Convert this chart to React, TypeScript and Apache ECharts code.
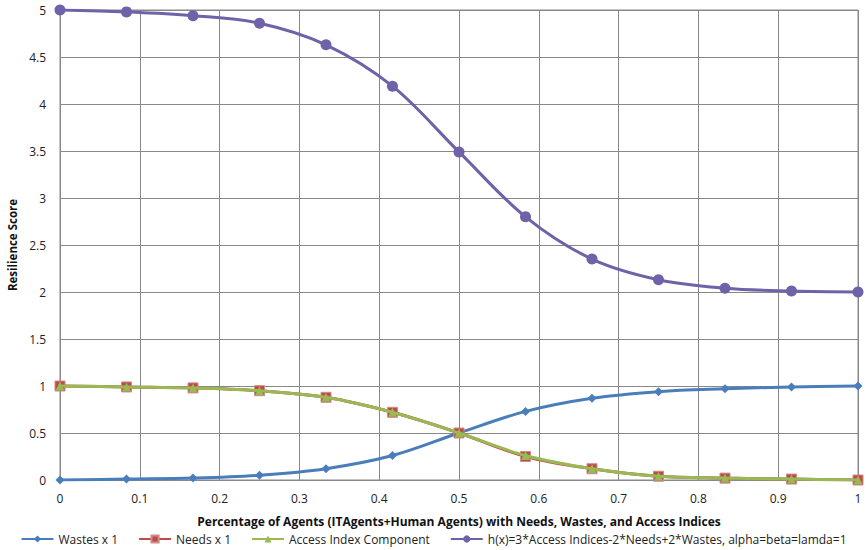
import React, { useEffect, useRef } from "react";
import * as echarts from "echarts";

const xValues = [0, 1 / 12, 2 / 12, 3 / 12, 4 / 12, 5 / 12, 6 / 12, 7 / 12, 8 / 12, 9 / 12, 10 / 12, 11 / 12, 1];
const wastes = [0, 0.01, 0.02, 0.05, 0.12, 0.26, 0.5, 0.73, 0.87, 0.94, 0.97, 0.99, 1.0];
const needs = [1, 0.99, 0.98, 0.95, 0.88, 0.72, 0.5, 0.25, 0.12, 0.04, 0.02, 0.01, 0];
const access = [1, 0.99, 0.98, 0.95, 0.88, 0.72, 0.5, 0.26, 0.12, 0.04, 0.02, 0.01, 0];
const hx = [5, 4.98, 4.94, 4.86, 4.63, 4.19, 3.49, 2.8, 2.35, 2.13, 2.04, 2.01, 2.0];

const seriesNames = [
  "Wastes x 1",
  "Needs x 1",
  "Access Index Component",
  "h(x)=3*Access Indices-2*Needs+2*Wastes, alpha=beta=lamda=1",
];
const colors = ["#4a7ebb", "#be4b48", "#98b954", "#6f62a8"];
const symbols = ["diamond", "rect", "triangle", "circle"];
const symbolSizes = [9, 10, 9, 11];
const values = [wastes, needs, access, hx];

const FONT = "Open Sans";

export default function App() {
  const ref = useRef<HTMLDivElement>(null);
  useEffect(() => {
    if (!ref.current) return;
    const chart = echarts.init(ref.current, undefined, { renderer: "svg" });
    chart.setOption({
      animation: false,
      backgroundColor: "#ffffff",
      textStyle: { fontFamily: FONT },
      grid: {
        left: 60,
        right: 9,
        top: 10,
        bottom: 70,
        outerBoundsMode: "none",
        containLabel: false,
        show: true,
        borderColor: "#888",
        borderWidth: 1,
      },
      legend: {
        bottom: 0,
        left: "center",
        itemWidth: 32,
        itemHeight: 9,
        itemGap: 20,
        textStyle: { fontFamily: FONT, fontSize: 12, color: "#222" },
        data: seriesNames,
      },
      xAxis: {
        type: "value",
        min: 0,
        max: 1,
        interval: 0.1,
        name: "Percentage of Agents (ITAgents+Human Agents) with Needs, Wastes, and Access Indices",
        nameLocation: "middle",
        nameGap: 35,
        nameTextStyle: { fontFamily: FONT, fontSize: 12, fontWeight: "bold", color: "#111" },
        axisLine: { show: true, lineStyle: { color: "#888" } },
        axisTick: { show: false },
        axisLabel: { fontFamily: FONT, fontSize: 12, color: "#222", margin: 12 },
        splitLine: { show: true, lineStyle: { color: "#888", width: 1 } },
      },
      yAxis: {
        type: "value",
        min: 0,
        max: 5,
        interval: 0.5,
        name: "Resilience Score",
        nameLocation: "middle",
        nameGap: 31,
        nameTextStyle: { fontFamily: FONT, fontSize: 11.5, fontWeight: "bold", color: "#111" },
        axisLine: { show: true, lineStyle: { color: "#888" } },
        axisTick: { show: false },
        axisLabel: { fontFamily: FONT, fontSize: 12, color: "#222", margin: 14 },
        splitLine: { show: true, lineStyle: { color: "#888", width: 1 } },
      },
      series: seriesNames.map((name, i) => ({
        name,
        type: "line",
        smooth: 0.35,
        data: xValues.map((x, j) => [x, values[i][j]]),
        symbol: symbols[i],
        symbolSize: symbolSizes[i],
        showSymbol: true,
        lineStyle: { color: colors[i], width: 3 },
        itemStyle: {
          color: colors[i],
          borderColor: i === 1 ? "#d08a88" : colors[i],
          borderWidth: i === 1 ? 1 : 0,
        },
        z: i + 2,
      })),
    });
    return () => chart.dispose();
  }, []);
  return (
    <div
      ref={ref}
      style={{ position: "absolute", left: 0, top: 0, width: 867, height: 550 }}
    />
  );
}
